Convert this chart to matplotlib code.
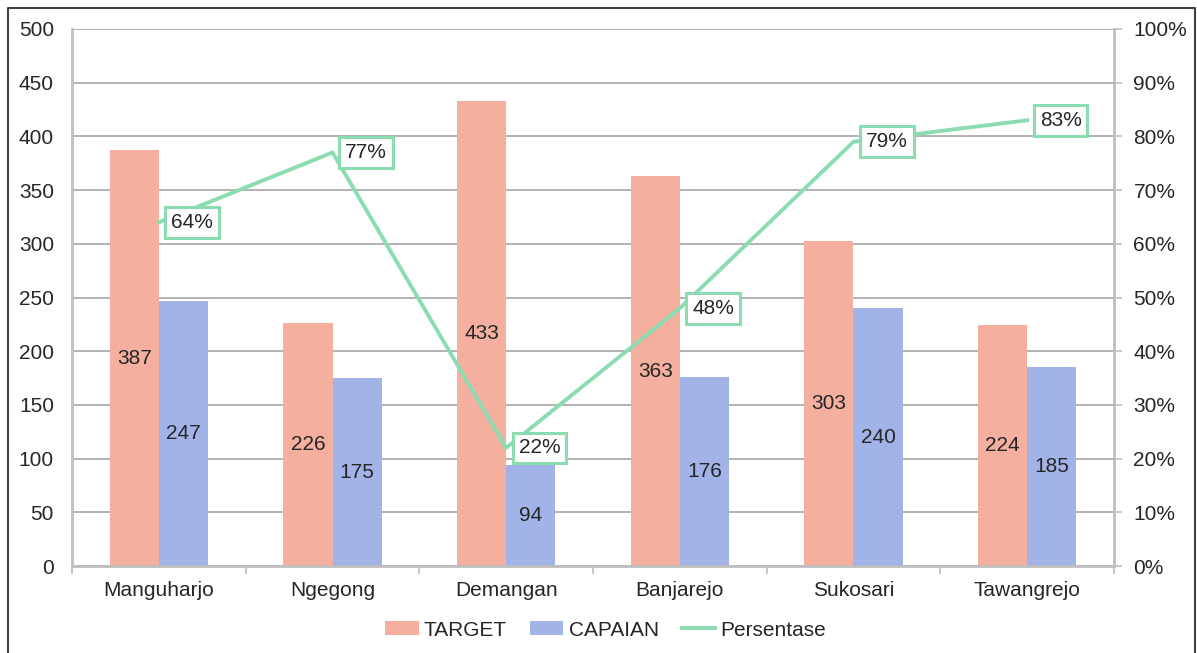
import matplotlib
matplotlib.use("Agg")
import matplotlib.pyplot as plt
from matplotlib.lines import Line2D
import numpy as np

desa = ["Manguharjo", "Ngegong", "Demangan", "Banjarejo", "Sukosari", "Tawangrejo"]
target = [387, 226, 433, 363, 303, 224]
capaian = [247, 175, 94, 176, 240, 185]
persentase = [0.64, 0.77, 0.22, 0.48, 0.79, 0.83]

SALMON = "#F5AF9F"
BLUE = "#A2B3E8"
GREEN = "#8CDCB2"
GRID = "#A6A6A6"
AXIS = "#BFBFBF"
TEXT = "#262626"
FS = 15

plt.rcParams.update({
    "font.family": ["Liberation Sans", "DejaVu Sans"],
    "font.size": FS,
    "text.color": TEXT,
    "xtick.color": AXIS,
    "ytick.color": AXIS,
    "xtick.labelcolor": TEXT,
    "ytick.labelcolor": TEXT,
})

fig = plt.figure(figsize=(11.97, 6.53), dpi=100)
ax = fig.add_axes([72 / 1197, 1 - 566 / 653, (1114 - 72) / 1197, (566 - 29) / 653])
ax2 = ax.twinx()

x = np.arange(len(desa))
w = 0.283
b1 = ax.bar(x - w / 2, target, w, color=SALMON, label="TARGET", zorder=2)
b2 = ax.bar(x + w / 2, capaian, w, color=BLUE, label="CAPAIAN", zorder=2)
for bars, vals in ((b1, target), (b2, capaian)):
    for r, v in zip(bars, vals):
        ax.text(r.get_x() + r.get_width() / 2, v / 2, str(v),
                ha="center", va="center", fontsize=FS, color=TEXT, zorder=3)

ax.set_xlim(-0.5, len(desa) - 0.5)
ax.set_ylim(0, 500)
ax.set_yticks(range(0, 501, 50))
ax.set_xticks(x)
ax.set_xticklabels(desa)
ax.set_xticks(np.arange(-0.5, len(desa), 1), minor=True)
ax.tick_params(axis="x", which="major", length=0, pad=11)
ax.tick_params(axis="x", which="minor", length=6, width=1.2, color=AXIS)
ax.tick_params(axis="y", length=0, pad=13)
ax.grid(axis="y", color=GRID, linewidth=1.2, zorder=0)
ax.set_axisbelow(True)
for s in ("top", "right"):
    ax.spines[s].set_visible(False)
ax.spines["left"].set_color(AXIS)
ax.spines["left"].set_linewidth(2)
ax.spines["bottom"].set_color(AXIS)
ax.spines["bottom"].set_linewidth(2)

ax2.plot(x, persentase, color=GREEN, linewidth=2.8, zorder=4)
ax2.set_ylim(0, 1)
ax2.set_yticks(np.arange(0, 1.01, 0.1))
ax2.set_yticklabels([f"{int(round(t * 100))}%" for t in np.arange(0, 1.01, 0.1)])
ax2.tick_params(axis="y", length=6, width=1.2, color=AXIS, pad=8)
for s in ("top", "left", "bottom"):
    ax2.spines[s].set_visible(False)
ax2.spines["right"].set_color(AXIS)
ax2.spines["right"].set_linewidth(2)
for xi, p in zip(x, persentase):
    ax2.annotate(f"{int(round(p * 100))}%", (xi, p), xytext=(9, 0),
                 textcoords="offset points", ha="left", va="center", fontsize=FS,
                 color=TEXT, zorder=5,
                 bbox=dict(boxstyle="square,pad=0.28", fc="white", ec=GREEN, lw=2.2))

handles = [b1, b2, Line2D([], [], color=GREEN, linewidth=2.8)]
fig.legend(handles, ["TARGET", "CAPAIAN", "Persentase"], loc="center",
           bbox_to_anchor=(0.506, 1 - 630 / 653), ncol=3, frameon=False,
           fontsize=FS, handlelength=1.6, handleheight=0.65,
           handletextpad=0.25, columnspacing=1.1)

# outer border (left, top, right)
fig.add_artist(Line2D([8 / 1197, 8 / 1197, 1195 / 1197, 1195 / 1197],
                      [0, 1 - 8 / 653, 1 - 8 / 653, 0],
                      transform=fig.transFigure, color="#404040", linewidth=1.5))

fig.savefig("out.png", dpi=100, facecolor="white")
